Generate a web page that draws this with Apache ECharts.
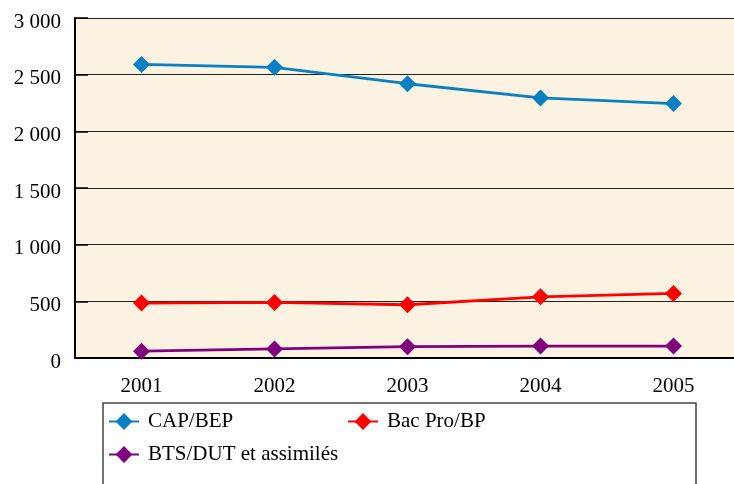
<!DOCTYPE html>
<html>
<head>
<meta charset="utf-8">
<script src="https://cdn.jsdelivr.net/npm/echarts@6/dist/echarts.min.js"></script>
<style>
  html, body { margin: 0; padding: 0; background: #fff; }
  #chart { width: 734px; height: 484px; }
</style>
</head>
<body>
<div id="chart"></div>
<script>
// données
const years = ['2001', '2002', '2003', '2004', '2005'];
const capBep = [2590, 2565, 2420, 2295, 2245];
const bacPro = [485, 490, 470, 540, 570];
const btsDut = [60, 80, 100, 105, 105];
const seriesNames = ['CAP/BEP', 'Bac Pro/BP', 'BTS/DUT et assimilés'];
const colors = ['#0a80c4', '#ff0000', '#800080'];

const font = "'Liberation Serif', 'Times New Roman', serif";
const chart = echarts.init(document.getElementById('chart'));

function line(name, data, color) {
  return {
    name: name,
    type: 'line',
    data: data,
    symbol: 'diamond',
    symbolSize: 17,
    lineStyle: { color: color, width: 2.8 },
    itemStyle: { color: color },
    emphasis: { disabled: true },
    z: 3
  };
}

function legendAt(name, left, top) {
  return {
    data: [name],
    left: left,
    top: top,
    padding: 0,
    itemWidth: 30,
    itemHeight: 21,
    selectedMode: false,
    textStyle: { fontFamily: font, fontSize: 21, color: '#000', padding: [0, 0, 0, 4] }
  };
}

chart.setOption({
  animation: false,
  textStyle: { fontFamily: font },
  grid: {
    left: 75, top: 18, width: 665, height: 340,
    outerBoundsMode: 'none',
    show: true, backgroundColor: '#fcf2e2', borderWidth: 0
  },
  graphic: [{
    type: 'rect',
    shape: { x: 103, y: 403, width: 593, height: 100 },
    style: { fill: '#fff', stroke: '#444', lineWidth: 1.5 },
    z: 0
  }],
  legend: [
    legendAt(seriesNames[0], 108, 411),
    legendAt(seriesNames[1], 347, 411),
    legendAt(seriesNames[2], 108, 444)
  ],
  xAxis: {
    type: 'category',
    data: years,
    boundaryGap: true,
    axisLine: { lineStyle: { color: '#000', width: 2 } },
    axisTick: { inside: true, length: 13, lineStyle: { color: '#000', width: 1 } },
    axisLabel: { fontFamily: font, fontSize: 21, color: '#000', margin: 18 },
    splitLine: { show: false }
  },
  yAxis: {
    type: 'value',
    min: 0, max: 3000, interval: 500,
    axisLine: { show: true, lineStyle: { color: '#000', width: 2 } },
    axisTick: { show: true, inside: true, length: 13, lineStyle: { color: '#000', width: 1.5 } },
    axisLabel: {
      fontFamily: font, fontSize: 21, color: '#000', margin: 14,
      formatter: function (v) {
        return '{v|' + String(v).replace(/\B(?=(\d{3})+(?!\d))/g, ' ') + '}';
      },
      rich: { v: { fontFamily: font, fontSize: 21, color: '#000', padding: [8, 0, 0, 0] } }
    },
    splitLine: { lineStyle: { color: '#222', width: 1 } }
  },
  series: [
    line(seriesNames[0], capBep, colors[0]),
    line(seriesNames[1], bacPro, colors[1]),
    line(seriesNames[2], btsDut, colors[2])
  ]
});
</script>
</body>
</html>
